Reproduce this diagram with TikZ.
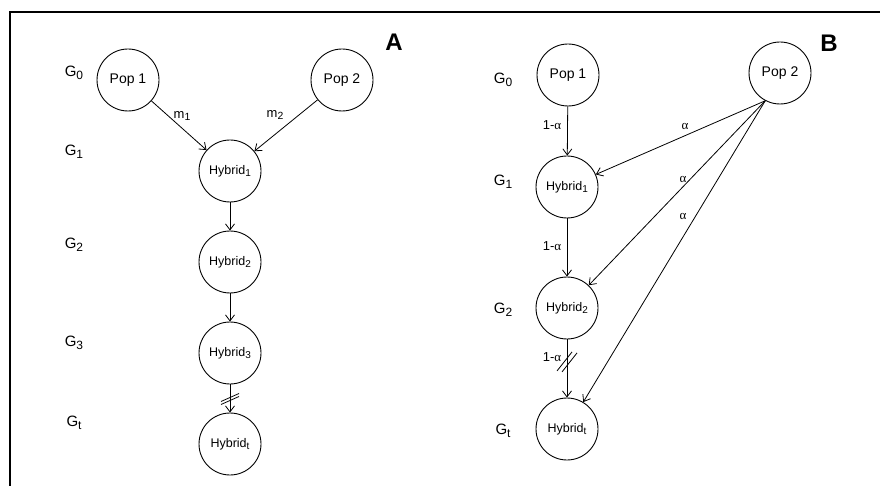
\documentclass[tikz,border=0pt]{standalone}
\usepackage{fontspec}
\setmainfont{Liberation Sans}
\newfontfamily\greekfont{Liberation Serif}
\usetikzlibrary{arrows.meta}
\newcommand{\lowidx}[1]{\raisebox{-0.35ex}{\scalebox{0.8}{#1}}}
\newcommand{\adm}{{\greekfont α}}

\begin{document}
\begin{tikzpicture}[x=1pt,y=-1pt]

  \tikzstyle{popNode} = [circle, draw, line width=0.9pt, minimum size=62pt, inner sep=0pt, font=\fontsize{14}{16}\selectfont];
  \tikzstyle{hybNode} = [circle, draw, line width=0.9pt, minimum size=62pt, inner sep=0pt, font=\fontsize{12.5}{14}\selectfont];
  \tikzstyle{genLabel} = [font=\fontsize{15}{17}\selectfont];
  \tikzstyle{rateLabel} = [font=\fontsize{13}{15}\selectfont];
  \tikzstyle{panelLabel} = [font=\fontsize{24}{26}\selectfont\bfseries];
  \tikzstyle{normalEdge} = [line width=0.8pt, -{Straight Barb[length=6pt,width=9pt]}];
  \tikzstyle{cutMark} = [line width=0.8pt];
  \tikzstyle{frameEdge} = [line width=1.8pt];

  \useasboundingbox (0,0) rectangle (880,486);
  \draw[frameEdge] (10,486) -- (10,12) -- (880,12);

  % panel A
  \node[panelLabel] (labA) at (394,42) {A};

  \node[genLabel] (genAa) at (74,73) {G\lowidx{0}};
  \node[genLabel] (genAb) at (74,152) {G\lowidx{1}};
  \node[genLabel] (genAc) at (74,245) {G\lowidx{2}};
  \node[genLabel] (genAd) at (74,343) {G\lowidx{3}};
  \node[genLabel] (genAt) at (74,423) {G\lowidx{t}};

  \node[popNode] (popAa) at (128,80) {Pop 1};
  \node[popNode] (popAb) at (342,80) {Pop 2};
  \node[hybNode] (hybAa) at (230,171) {Hybrid\lowidx{1}};
  \node[hybNode] (hybAb) at (230,262) {Hybrid\lowidx{2}};
  \node[hybNode] (hybAc) at (230,353) {Hybrid\lowidx{3}};
  \node[hybNode] (hybAt) at (230,444) {Hybrid\lowidx{t}};

  \node[rateLabel] (migAa) at (182,116) {m\lowidx{1}};
  \node[rateLabel] (migAb) at (275,115) {m\lowidx{2}};

  \draw[normalEdge] (popAa) -- (hybAa);
  \draw[normalEdge] (popAb) -- (hybAa);
  \draw[normalEdge] (hybAa) -- (hybAb);
  \draw[normalEdge] (hybAb) -- (hybAc);
  \draw[normalEdge] (hybAc) -- coordinate[pos=0.5] (cutA) (hybAt);
  \draw[cutMark] ([shift={(-9,3)}]cutA) -- ([shift={(9,-5)}]cutA);
  \draw[cutMark] ([shift={(-9,6)}]cutA) -- ([shift={(9,-2)}]cutA);

  % panel B
  \node[panelLabel] (labB) at (829,43) {B};

  \node[genLabel] (genBa) at (503,80) {G\lowidx{0}};
  \node[genLabel] (genBb) at (503,182) {G\lowidx{1}};
  \node[genLabel] (genBc) at (503,310) {G\lowidx{2}};
  \node[genLabel] (genBt) at (503,431) {G\lowidx{t}};

  \node[popNode] (popBa) at (568,75) {Pop 1};
  \node[popNode] (popBb) at (780,73) {Pop 2};
  \node[hybNode] (hybBa) at (567,187) {Hybrid\lowidx{1}};
  \node[hybNode] (hybBb) at (567,308) {Hybrid\lowidx{2}};
  \node[hybNode] (hybBt) at (567,429) {Hybrid\lowidx{t}};

  \node[rateLabel] (resBa) at (552,125) {1-\adm};
  \node[rateLabel] (resBb) at (552,246) {1-\adm};
  \node[rateLabel] (resBc) at (552,357) {1-\adm};
  \node[rateLabel] (admBa) at (685,126) {\adm};
  \node[rateLabel] (admBb) at (683,179) {\adm};
  \node[rateLabel] (admBc) at (683,216) {\adm};

  \draw[normalEdge] (popBa) -- (hybBa);
  \draw[normalEdge] (hybBa) -- (hybBb);
  \draw[normalEdge] (hybBb) -- coordinate[pos=0.37] (cutB) (hybBt);
  \draw[cutMark] ([shift={(-10,10)}]cutB) -- ([shift={(5,-9)}]cutB);
  \draw[cutMark] ([shift={(-5,11)}]cutB) -- ([shift={(10,-8)}]cutB);

  \draw[normalEdge] (popBb.242) -- (hybBa);
  \draw[normalEdge] (popBb.242) -- (hybBb);
  \draw[normalEdge] (popBb.242) -- (hybBt);
\end{tikzpicture}
\end{document}
